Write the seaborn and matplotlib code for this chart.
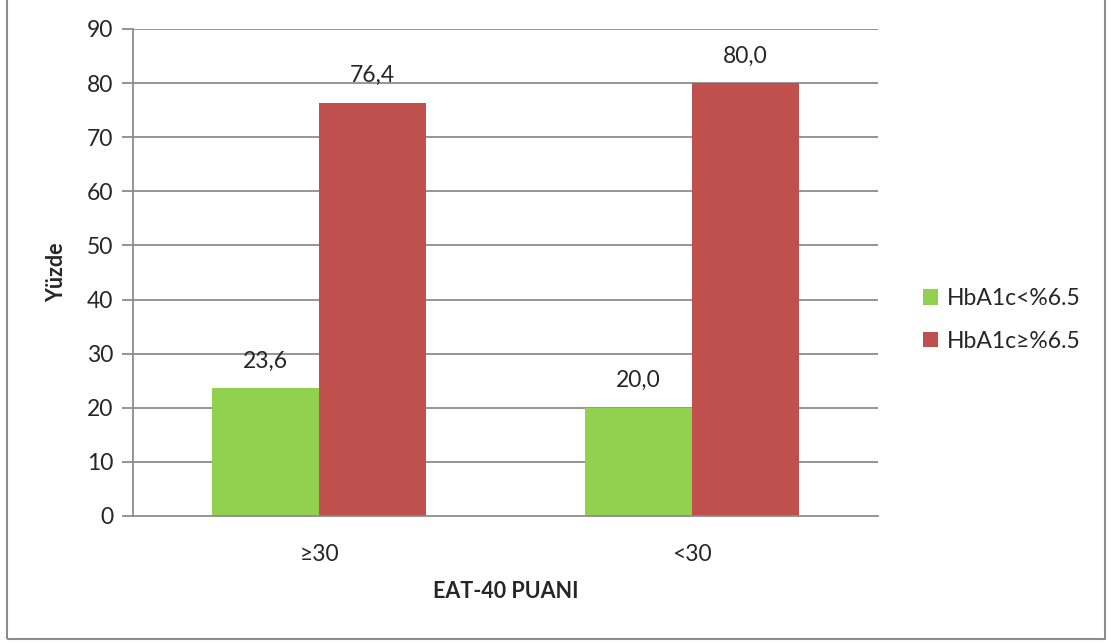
import matplotlib
matplotlib.use("Agg")
import matplotlib.pyplot as plt
import seaborn as sns
import pandas as pd
from matplotlib.patches import Rectangle

categories = ["≥30", "<30"]
series_names = ["HbA1c<%6.5", "HbA1c≥%6.5"]
low_values = [23.6, 20.0]
high_values = [76.4, 80.0]
yticks = [0, 10, 20, 30, 40, 50, 60, 70, 80, 90]

df = pd.DataFrame({
    "grup": categories * 2,
    "seri": [series_names[0]] * 2 + [series_names[1]] * 2,
    "deger": low_values + high_values,
})

sns.set_theme(style="white")
plt.rcParams["font.family"] = ["Lato", "DejaVu Sans"]

fig = plt.figure(figsize=(11.12, 6.44), dpi=100)
ax = fig.add_axes([0.1196, 0.1988, 0.6700, 0.7562])

palette = {series_names[0]: "#92D050", series_names[1]: "#C0504D"}
sns.barplot(data=df, x="grup", y="deger", hue="seri", order=categories,
            hue_order=series_names, palette=palette, width=0.574,
            saturation=1, ax=ax, linewidth=0, errorbar=None)

ax.set_ylim(0, 90)
ax.set_yticks(yticks)
ax.set_xlim(-0.5, 1.5)
for y in yticks[1:]:
    ax.axhline(y, color="#8c8c8c", lw=1.3, zorder=0)
for side in ["top", "right"]:
    ax.spines[side].set_visible(False)
for side in ["left", "bottom"]:
    ax.spines[side].set_color("#8c8c8c")
    ax.spines[side].set_linewidth(1.3)
ax.tick_params(axis="y", left=True, length=8, width=1.3, color="#8c8c8c",
               labelsize=16.5, pad=6)
ax.tick_params(axis="x", bottom=False, labelsize=16.5, pad=14)
ax.set_axisbelow(True)

for cont in ax.containers:
    labels = [f"{v:.1f}".replace(".", ",") for v in cont.datavalues]
    ax.bar_label(cont, labels=labels, padding=12, fontsize=16.5)

ax.set_ylabel("Yüzde", fontsize=15.5, fontweight="bold", labelpad=14)
ax.set_xlabel("EAT-40 PUANI", fontsize=15.5, fontweight="bold", labelpad=12)

ax.legend(loc="center left", bbox_to_anchor=(1.033, 0.4025), frameon=False,
          fontsize=16.5, handlelength=0.65, handleheight=0.65,
          handletextpad=0.4, labelspacing=0.95, title=None)

fig.patches.append(Rectangle((7 / 1112, 5 / 644), 1098 / 1112, 1.2,
                             transform=fig.transFigure, fill=False,
                             edgecolor="#8c8c8c", lw=1.5))

fig.savefig("out.png", dpi=100)
